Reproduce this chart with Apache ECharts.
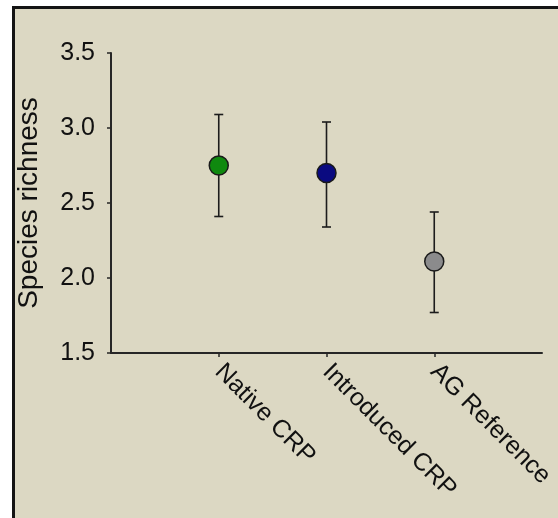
<!DOCTYPE html>
<html>
<head>
<meta charset="utf-8">
<script src="https://cdn.jsdelivr.net/npm/echarts@6/dist/echarts.min.js"></script>
<style>
  html, body { margin: 0; padding: 0; background: #ffffff; }
  #wrap { position: relative; width: 558px; height: 518px; background: #ffffff; overflow: hidden; }
  #main {
    position: absolute; left: 12px; top: 6px;
    width: 543px; height: 509px;
    border-left: 3px solid #141414; border-top: 3px solid #141414;
    background: #dcd8c3;
  }
</style>
</head>
<body>
<div id="wrap"><div id="main"></div></div>
<script>
// groups on the x axis
var categories = ['Native CRP', 'Introduced CRP', 'AG Reference']
// mean species richness and error bar ends
var means = [2.75, 2.70, 2.11]
var lower = [2.41, 2.34, 1.77]
var upper = [3.09, 3.04, 2.44]
var pointColors = ['#0f890f', '#0a0a80', '#8b8b8c']
var yTicks = [1.5, 2.0, 2.5, 3.0, 3.5]

// pad with empty slots so the groups sit at 1..3 of a 0..4 axis
var axisData = [''].concat(categories).concat([''])

var chart = echarts.init(document.getElementById('main'))

var textColor = '#111111'
var lineColor = '#262626'
var font = 'Liberation Sans, Arial, sans-serif'

var option = {
  backgroundColor: 'transparent',
  animation: false,
  grid: {
    left: 96,
    right: 16,
    top: 44,
    bottom: 165,
    outerBoundsMode: 'none'
  },
  xAxis: {
    type: 'category',
    data: axisData,
    boundaryGap: false,
    axisLine: { lineStyle: { color: lineColor, width: 2 } },
    axisTick: {
      show: true,
      length: 4,
      interval: function (index) { return index >= 1 && index <= categories.length },
      lineStyle: { color: lineColor, width: 1.5 }
    },
    axisLabel: {
      rotate: -45,
      margin: 15,
      interval: 0,
      color: textColor,
      fontFamily: font,
      fontSize: 25
    },
    splitLine: { show: false }
  },
  yAxis: {
    type: 'value',
    min: yTicks[0],
    max: yTicks[yTicks.length - 1],
    interval: 0.5,
    name: 'Species richness',
    nameLocation: 'middle',
    nameGap: 68,
    nameTextStyle: {
      color: textColor,
      fontFamily: font,
      fontSize: 28
    },
    axisLine: { show: true, lineStyle: { color: lineColor, width: 2 } },
    axisTick: { show: true, length: 4, lineStyle: { color: lineColor, width: 1.5 } },
    axisLabel: {
      margin: 16,
      color: textColor,
      fontFamily: font,
      fontSize: 25,
      formatter: function (v) { return v.toFixed(1) }
    },
    splitLine: { show: false }
  },
  series: [
    {
      type: 'custom',
      z: 2,
      data: categories.map(function (c, i) { return [i + 1, lower[i], upper[i]] }),
      renderItem: function (params, api) {
        var x = api.value(0)
        var lo = api.coord([x, api.value(1)])
        var hi = api.coord([x, api.value(2)])
        var half = 4.5
        var style = { stroke: '#1c1c1c', lineWidth: 1.6 }
        return {
          type: 'group',
          children: [
            { type: 'line', shape: { x1: lo[0], y1: lo[1], x2: hi[0], y2: hi[1] }, style: style },
            { type: 'line', shape: { x1: lo[0] - half, y1: lo[1], x2: lo[0] + half, y2: lo[1] }, style: style },
            { type: 'line', shape: { x1: hi[0] - half, y1: hi[1], x2: hi[0] + half, y2: hi[1] }, style: style }
          ]
        }
      }
    },
    {
      type: 'scatter',
      z: 3,
      symbol: 'circle',
      symbolSize: 19,
      data: categories.map(function (c, i) {
        return {
          value: [i + 1, means[i]],
          itemStyle: { color: pointColors[i], borderColor: '#1a1a1a', borderWidth: 1.5, opacity: 1 }
        }
      })
    }
  ]
}

chart.setOption(option)
</script>
</body>
</html>
